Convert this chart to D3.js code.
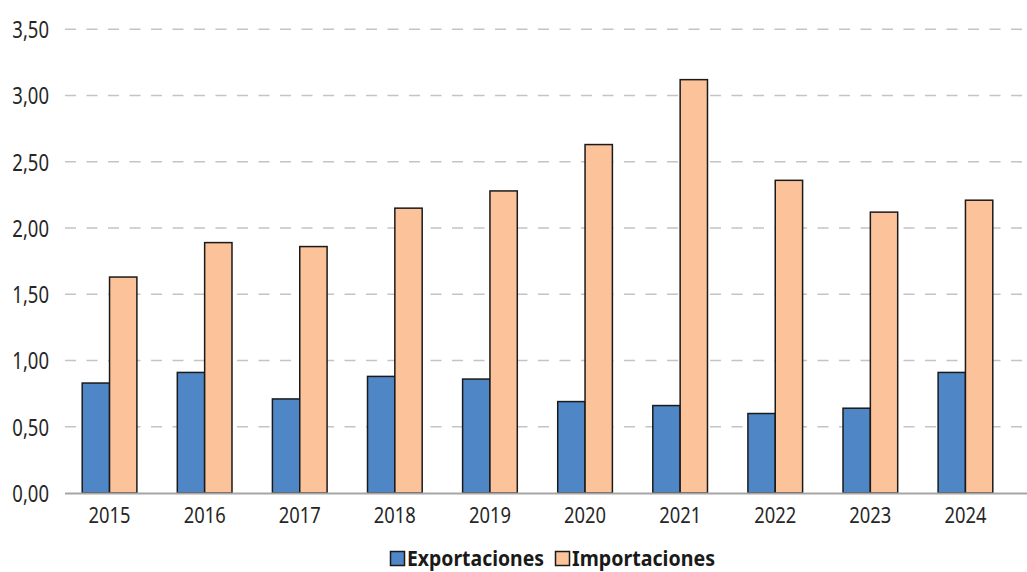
<!DOCTYPE html>
<html><head><meta charset="utf-8">
<script src="https://cdn.jsdelivr.net/npm/d3@7"></script>
<style>body{margin:0;background:#fff}svg{display:block}</style>
</head><body>
<svg id="c" width="1027" height="572"></svg>
<script>
const years = ["2015","2016","2017","2018","2019","2020","2021","2022","2023","2024"];
const exportaciones = [0.83,0.91,0.71,0.88,0.86,0.69,0.66,0.60,0.64,0.91];
const importaciones = [1.63,1.89,1.86,2.15,2.28,2.63,3.12,2.36,2.12,2.21];
const seriesNames = ["Exportaciones","Importaciones"];
const seriesColors = ["#4f86c6","#fcc39b"];
const yTicks = [0,0.5,1,1.5,2,2.5,3,3.5];

const font = "'Noto Sans','Liberation Sans',sans-serif";
const svg = d3.select("#c");
const y = d3.scaleLinear().domain([0,3.5]).range([493,29.3]);
const x = d3.scaleBand().domain(years).range([62,1013]).paddingInner(0.425).paddingOuter(0.2125);
const x1 = d3.scaleBand().domain(seriesNames).range([0,x.bandwidth()]).padding(0);
const fmt = v => d3.format(".2f")(v).replace(".",",");

// gridlines
svg.append("g").selectAll("line").data(yTicks.filter(d=>d>0)).join("line")
  .attr("x1",65).attr("x2",1027).attr("y1",d=>y(d)).attr("y2",d=>y(d))
  .attr("stroke","#c4c4c4").attr("stroke-width",1.6).attr("stroke-dasharray","11,10.5");

// y labels
const yAxis = d3.axisLeft(y).tickValues(yTicks).tickFormat(fmt).tickSize(0).tickPadding(0);
const gy = svg.append("g").attr("transform","translate(49,0)").call(yAxis);
gy.select(".domain").remove();
gy.selectAll("text").attr("font-family",font).attr("font-size",23.4).attr("fill","#262626")
  .attr("dy","0.36em").attr("transform","scale(0.79,1)");

// bars
const data = years.map((yr,i)=>({yr, vals:[exportaciones[i],importaciones[i]]}));
const g = svg.append("g").selectAll("g").data(data).join("g")
  .attr("transform",d=>`translate(${x(d.yr)},0)`);
g.selectAll("rect").data(d=>d.vals.map((v,j)=>({v,s:seriesNames[j],c:seriesColors[j]}))).join("rect")
  .attr("x",d=>x1(d.s)).attr("width",x1.bandwidth())
  .attr("y",d=>y(d.v)).attr("height",d=>y(0)-y(d.v))
  .attr("fill",d=>d.c).attr("stroke","#1a1a1a").attr("stroke-width",1.5);

// x axis
svg.append("line").attr("x1",65).attr("x2",1027).attr("y1",y(0)+0.5).attr("y2",y(0)+0.5)
  .attr("stroke","#a6a6a6").attr("stroke-width",1.8);
const xAxis = d3.axisBottom(x).tickSize(0).tickPadding(0);
const gx = svg.append("g").attr("transform","translate(0,523)").call(xAxis);
gx.select(".domain").remove();
gx.selectAll("text").attr("font-family",font).attr("font-size",22.4).attr("fill","#262626")
  .attr("dy","0").attr("transform","scale(0.82,1)");

// legend
const legX = [390,555];
const legW = [137,143];
const lg = svg.append("g").selectAll("g").data(seriesNames).join("g")
  .attr("transform",(d,i)=>`translate(${legX[i]},551)`);
lg.append("rect").attr("width",14).attr("height",14).attr("x",0.5).attr("y",0.5)
  .attr("fill",(d,i)=>seriesColors[i]).attr("stroke","#1a1a1a").attr("stroke-width",1.5);
lg.append("text").attr("x",17).attr("y",15).text(d=>d)
  .attr("textLength",(d,i)=>legW[i]).attr("lengthAdjust","spacingAndGlyphs")
  .attr("font-family",font).attr("font-weight","bold").attr("font-size",21).attr("fill","#1a1a1a");
</script>
</body></html>
